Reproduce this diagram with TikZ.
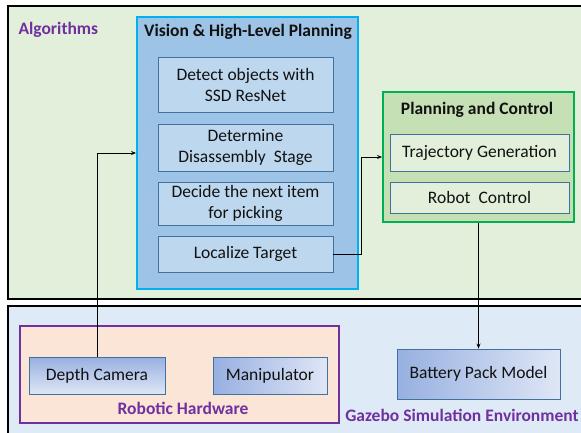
\documentclass[tikz,border=0pt]{standalone}
\usepackage{fontspec}
\setmainfont{Carlito}
\usetikzlibrary{arrows.meta}
\definecolor{algfill}{HTML}{E2EFDA}
\definecolor{gazfill}{HTML}{DEEBF7}
\definecolor{visfill}{HTML}{9DC3E6}
\definecolor{visborder}{HTML}{00B0F0}
\definecolor{innerfill}{HTML}{BDD7EE}
\definecolor{innerborder}{HTML}{41719C}
\definecolor{planfill}{HTML}{C5E0B4}
\definecolor{planborder}{HTML}{00B050}
\definecolor{plinner}{HTML}{E2EFDA}
\definecolor{hwfill}{HTML}{FBE5D6}
\definecolor{purp}{HTML}{7030A0}
\definecolor{gdark}{HTML}{97B0E0}
\definecolor{glight}{HTML}{DFE6F6}
\definecolor{txtc}{HTML}{111111}
\begin{document}
\begin{tikzpicture}[x=1pt,y=-1pt,
  txt/.style={font=\fontsize{17.5}{21}\selectfont, text=txtc},
  ttl/.style={font=\fontsize{17.5}{21}\selectfont\bfseries, text=txtc},
  ptl/.style={font=\fontsize{17.5}{21}\selectfont\bfseries, text=purp},
  innerbox/.style={draw=innerborder, line width=0.9pt, fill=innerfill, txt, align=center, inner sep=0pt},
  plbox/.style={draw=innerborder, line width=0.9pt, fill=plinner, txt, align=center, inner sep=0pt},
  gradbox/.style={draw=innerborder, line width=0.9pt, txt, align=center, inner sep=0pt},
  conn/.style={draw=black, line width=0.8pt, -{Stealth[length=5pt,width=4pt]}}
]
\useasboundingbox (0,0) rectangle (581,433);
\clip (0,0) rectangle (581,433);
\fill[white] (0,0) rectangle (581,433);
% outer areas
\draw[line width=2pt, fill=algfill] (8,6) rectangle (600,299);
\draw[line width=2pt, fill=gazfill] (8,306) rectangle (600,450);
\node[ptl, anchor=west] (alglbl) at (15,30) {Algorithms};

% vision box
\node[draw=visborder, line width=1.8pt, fill=visfill, minimum width=221pt, minimum height=272pt, inner sep=0pt] (vision) at (247.5,153) {};
\node[ttl] (vistitle) at (248,32) {Vision \& High-Level Planning};
\node[innerbox, minimum width=175pt, minimum height=55pt] (det) at (245.5,84.5) {Detect objects with\\SSD ResNet};
\node[innerbox, minimum width=175pt, minimum height=47pt] (stage) at (245.5,147.5) {Determine\\Disassembly~~Stage};
\node[innerbox, minimum width=175pt, minimum height=43pt] (decide) at (245.5,203.5) {Decide the next item\\for picking};
\node[innerbox, minimum width=175pt, minimum height=36pt] (loc) at (245.5,254) {Localize Target};

% planning box
\node[draw=planborder, line width=1.8pt, fill=planfill, minimum width=191pt, minimum height=130pt, inner sep=0pt] (plan) at (478.5,157) {};
\node[ttl] (pltitle) at (477,110) {Planning and Control};
\node[plbox, minimum width=179pt, minimum height=37pt] (traj) at (479.5,152.5) {Trajectory Generation};
\node[plbox, minimum width=179pt, minimum height=31pt] (rc) at (479.5,197.5) {Robot~~Control};

% robotic hardware
\node[draw=purp, line width=1.8pt, fill=hwfill, minimum width=319pt, minimum height=97pt, inner sep=0pt] (hw) at (179.5,374.5) {};
\node[gradbox, top color=gdark, bottom color=glight, minimum width=136pt, minimum height=37pt] (dc) at (97,375.5) {Depth Camera};
\node[gradbox, shading=axis, shading angle=225, left color=gdark, right color=glight, minimum width=114pt, minimum height=37pt] (man) at (270,375.5) {Manipulator};
\node[ptl] (hwlbl) at (183,408) {Robotic Hardware};

% gazebo
\node[gradbox, left color=gdark, right color=glight, minimum width=163pt, minimum height=50pt] (bat) at (478.5,374) {Battery Pack Model};
\node[ptl] (gazlbl) at (462,415) {Gazebo Simulation Environment};

% connectors
\draw[conn] (dc.north) |- (vision.west);
\draw[conn] (loc.east) -- ++(28,0) |- (plan.west);
\draw[conn] (plan.south) -- (bat.north);
\end{tikzpicture}
\end{document}
